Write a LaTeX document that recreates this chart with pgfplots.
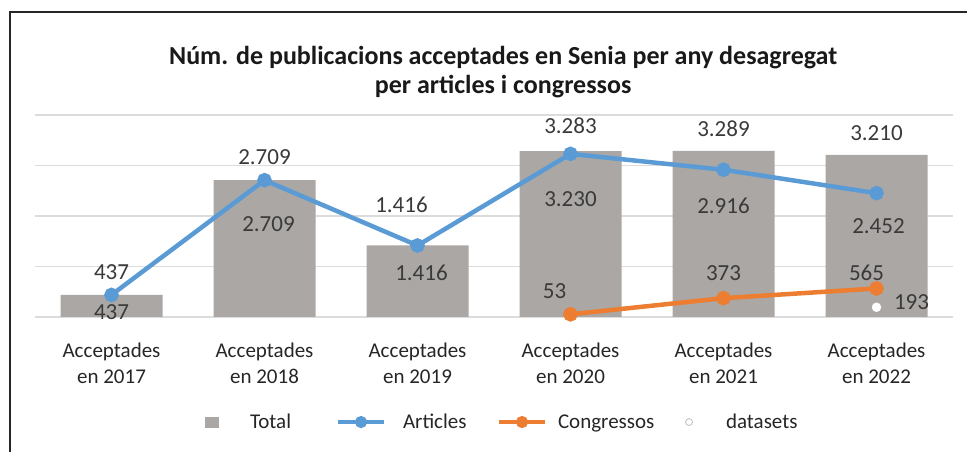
\documentclass[border=0pt]{standalone}
\usepackage{pgfplots}
\usepackage{pgfplotstable}
\pgfplotsset{compat=1.18}
\usepackage{fontspec}
\setmainfont{Carlito}

\definecolor{barg}{HTML}{ABA7A5}
\definecolor{artblue}{HTML}{5B9BD5}
\definecolor{conor}{HTML}{ED7D31}
\definecolor{gridg}{HTML}{DCDCDC}
\definecolor{lbl}{HTML}{3A3A3A}

% x = 0..5 -> 2017..2022 ; dx, dy = label offsets (pt)
\pgfplotstableread{
x y dx dy
0 437 0 23
1 2709 0 23
2 1416 -16 41
3 3283 0 25
4 3289 0 22
5 3210 0 22
}\totaldata
\pgfplotstableread{
x y dx dy
0 437 0 -17
1 2709 4 -44
2 1416 4 -27
3 3230 0 -45
4 2916 0 -36
5 2452 2 -33
}\artdata
\pgfplotstableread{
x y dx dy
3 53 -16 23
4 373 0 25
5 565 -10 16
}\condata
\pgfplotstableread{
x y dx dy
5 193 35 5
}\dsdata

\pgfplotsset{
  lbls/.style={
    visualization depends on={\thisrow{dx} \as \ldx},
    visualization depends on={\thisrow{dy} \as \ldy},
    nodes near coords,
    point meta=y,
    every node near coord/.append style={anchor=center, xshift=\ldx pt, yshift=\ldy pt,
      font=\fontsize{23}{26}\selectfont, text=lbl,
      /pgf/number format/.cd, 1000 sep={.}, assume math mode=true},
  },
  lineleg/.style={
    legend image code/.code={\draw[mark repeat=2, mark phase=2, ##1, line width=4pt, mark size=4pt]
      plot coordinates {(0pt,0pt) (23pt,0pt) (46pt,0pt)};}},
}

\begin{document}
\begin{tikzpicture}
\useasboundingbox (-35pt,-135pt) rectangle (932pt,317pt);
\begin{axis}[
  scale only axis,
  width=918pt, height=202pt,
  xmin=-0.5, xmax=5.5,
  ymin=0, ymax=4000,
  ytick={0,1000,2000,3000,4000},
  yticklabels={},
  ymajorgrids,
  grid style={gridg, line width=1.3pt},
  axis line style={draw=none},
  major tick length=0pt,
  xtick={0,1,2,3,4,5},
  xticklabels={{Acceptades\\en 2017},{Acceptades\\en 2018},{Acceptades\\en 2019},
               {Acceptades\\en 2020},{Acceptades\\en 2021},{Acceptades\\en 2022}},
  xticklabel style={align=center, font=\fontsize{21}{26}\selectfont, text=black!85, yshift=-22pt},
  clip=false,
  title={Núm. de publicacions acceptades en Senia per any desagregat\\per articles i congressos},
  title style={at={(0.51,1.185)}, anchor=center, align=center,
    font=\bfseries\fontsize{26}{29}\selectfont, text=black!90},
  legend columns=4,
  legend style={at={(0.1667,-0.52)}, anchor=west, draw=none, fill=none,
    inner sep=0pt, outer sep=0pt,
    font=\fontsize{21}{24}\selectfont, text=black!85,
    /tikz/every even column/.append style={column sep=0pt},
    /tikz/every odd column/.append style={column sep=0pt},
    cells={anchor=west, inner sep=0pt}},
]
\addplot[ybar, bar width=102pt, fill=barg, draw=none, lbls,
  legend image code/.code={\path[draw=none, fill=none] (0pt,0pt) -- (48pt,0pt);
    \fill[barg] (17pt,-5.5pt) rectangle (31pt,5.5pt);}]
  table[x=x, y=y] {\totaldata};
\addlegendentry{\makebox[96pt][l]{\hspace{12pt}Total}}

\addplot[artblue, line width=4.5pt, mark=*, mark size=5pt, lbls, lineleg]
  table[x=x, y=y] {\artdata};
\addlegendentry{\makebox[107pt][l]{\hspace{15pt}Articles}}

\addplot[conor, line width=4.5pt, mark=*, mark size=5pt, lbls, lineleg]
  table[x=x, y=y] {\condata};
\addlegendentry{\makebox[115pt][l]{\hspace{9pt}Congressos}}

\addplot[only marks, mark=*, mark size=4.5pt, mark options={fill=white, draw=white}, lbls,
  legend image code/.code={\path[draw=none, fill=none] (0pt,0pt) -- (46pt,0pt);
    \draw[black!25, fill=white, line width=0.8pt] (23pt,0pt) circle (3.5pt);}]
  table[x=x, y=y] {\dsdata};
\addlegendentry{\hspace{12pt}datasets}
\end{axis}
\draw[black!85, line width=1.6pt] (-25pt,-140pt) -- (-25pt,305pt) -- (940pt,305pt);
\end{tikzpicture}
\end{document}
